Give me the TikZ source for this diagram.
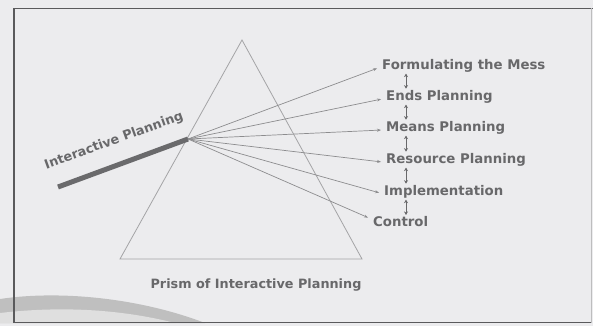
\documentclass[tikz,border=0pt]{standalone}
\usepackage{fontspec}
\setmainfont{DejaVu Sans}
\usetikzlibrary{arrows.meta,calc}
\definecolor{bgc}{HTML}{ECECEE}
\definecolor{txtc}{HTML}{68686A}
\definecolor{rayc}{HTML}{8C8C8E}
\definecolor{triC}{HTML}{A4A4A6}
\definecolor{barc}{HTML}{6A6A6C}
\definecolor{framec}{HTML}{5A5A5C}
\tikzset{
  lbl/.style={font=\bfseries\fontsize{13.3}{15}\selectfont, text=txtc, anchor=west, inner xsep=4pt, inner ysep=1pt},
  ray/.style={draw=rayc, line width=0.7pt, -{Stealth[length=4pt,width=3pt]}, shorten >=1pt},
  link/.style={draw=txtc, line width=0.7pt, {Stealth[length=3.5pt,width=4pt]}-{Stealth[length=3.5pt,width=4pt]}},
  tri/.style={draw=triC, line width=0.8pt},
  bar/.style={draw=barc, line width=5pt},
  frm/.style={draw=framec, line width=1.1pt}
}
\begin{document}
\begin{tikzpicture}[x=1pt,y=-1pt]
\useasboundingbox (0,0) rectangle (593,326);
\fill[bgc] (0,0) rectangle (593,326);
% decorative swoosh bottom-left
\fill[gray!50] (0,299) .. controls (60,290) and (140,298) .. (205,323) -- (0,323) -- cycle;
\fill[gray!25] (0,313) .. controls (60,306) and (120,309) .. (175,323) -- (0,323) -- cycle;
% frame
\draw[frm] (593,8.5) -- (14,8.5) -- (14,322.5) -- (591,322.5);
\draw[draw=framec!40, line width=0.8pt] (591,8.5) -- (591,322.5);
% prism
\coordinate (A) at (242,40);
\coordinate (B) at (120,259);
\coordinate (C) at (362,259);
\draw[tri] (A) -- (B) -- (C) -- cycle;
% light source
\coordinate (S) at (188,139);
\coordinate (P) at (58,187);
\draw[bar] (P) -- (S);
\node[font=\bfseries\fontsize{12.8}{14}\selectfont, text=txtc, rotate=20, inner sep=0pt] (ip) at (114,141) {Interactive Planning};
% labels
\node[lbl] (f) at (378,66) {Formulating the Mess};
\node[lbl] (e) at (382,97) {Ends Planning};
\node[lbl] (m) at (382,128) {Means Planning};
\node[lbl] (r) at (382,160) {Resource Planning};
\node[lbl] (i) at (380,192) {Implementation};
\node[lbl] (c) at (369,222) {Control};
% rays
\draw[ray] (S) -- ([yshift=-2pt]f.west);
\draw[ray] (S) -- ([yshift=-2pt]e.west);
\draw[ray] (S) -- ([yshift=-2pt]m.west);
\draw[ray] (S) -- ([yshift=-2pt]r.west);
\draw[ray] (S) -- ([yshift=-1pt]i.west);
\draw[ray] (S) -- ([yshift=4pt]c.west);
% links between stages
\coordinate (ax) at (406,0);
\draw[link] ([yshift=-4pt]f.base -| ax) -- ([yshift=12pt]e.base -| ax);
\draw[link] ([yshift=-4pt]e.base -| ax) -- ([yshift=12pt]m.base -| ax);
\draw[link] ([yshift=-4pt]m.base -| ax) -- ([yshift=12pt]r.base -| ax);
\draw[link] ([yshift=-4pt]r.base -| ax) -- ([yshift=12pt]i.base -| ax);
\draw[link] ([yshift=-4pt]i.base -| ax) -- ([yshift=12pt]c.base -| ax);
% caption
\node[font=\bfseries\fontsize{12.8}{14}\selectfont, text=txtc] (cap) at (256,285) {Prism of Interactive Planning};
\end{tikzpicture}
\end{document}
